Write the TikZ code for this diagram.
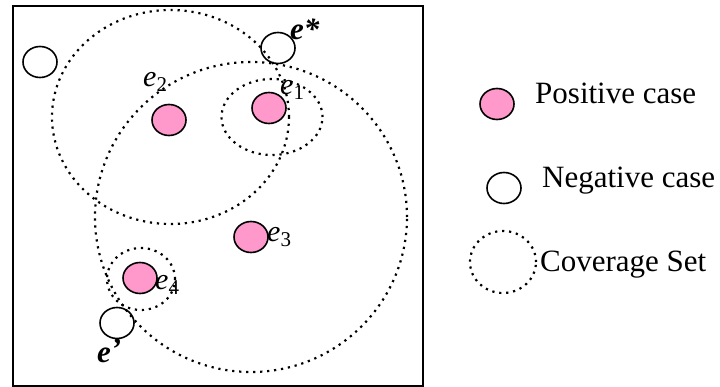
\documentclass[tikz,border=0pt]{standalone}
\usepackage{fontspec}
\setmainfont{Liberation Serif}
\usetikzlibrary{shapes.geometric,positioning}
\definecolor{cpink}{HTML}{FF99CC}
\newcommand{\esub}[1]{e\raisebox{-5pt}{\fontsize{21}{21}\selectfont\upshape #1}}
\tikzset{
  casept/.style={ellipse,draw=black,line width=1.6pt,minimum width=34pt,minimum height=31pt,inner sep=0pt},
  poscase/.style={casept,fill=cpink},
  negcase/.style={casept},
  covset/.style={ellipse,draw=black,line width=2.2pt,dash pattern=on 2.2pt off 4.8pt,inner sep=0pt},
  lbl/.style={font=\fontsize{30}{30}\selectfont\itshape,inner sep=0pt,anchor=base west},
  blbl/.style={lbl,font=\fontsize{31}{31}\selectfont\bfseries\itshape},
  txt/.style={font=\fontsize{31}{36}\selectfont,inner sep=0pt,anchor=base west},
}
\begin{document}
\begin{tikzpicture}[x=1pt,y=-1pt]
  \useasboundingbox (0,0) rectangle (720,387);
  \node[draw,line width=2pt,minimum width=410pt,minimum height=380pt,inner sep=0pt] (frame) at (218,196) {};
  \node[covset,minimum width=237pt,minimum height=214pt] (cov2) at (170.5,117) {};
  \node[covset,minimum width=101pt,minimum height=76pt] (cov1) at (272,117) {};
  \node[covset,minimum width=312pt,minimum height=310pt] (cov3) at (251,217) {};
  \node[covset,minimum width=68pt,minimum height=62pt] (cov4) at (141,279) {};
  \node[negcase] (n0) at (40,62) {};
  \node[negcase] (nstar) at (278,48) {};
  \node[negcase] (nprime) at (117,323) {};
  \node[poscase] (p2) at (169,120) {};
  \node[poscase] (p1) at (269,108) {};
  \node[poscase] (p3) at (251,237) {};
  \node[poscase] (p4) at (140,278) {};
  \node[blbl] (lstar) at (290,40) {e*};
  \node[blbl] (lprime) at (97,362) {e\raisebox{3pt}{’}};
  \node[lbl] (l2) at (143,87) {\esub{2}};
  \node[lbl] (l1) at (280,95) {\esub{1}};
  \node[lbl] (l3) at (267,242) {\esub{3}};
  \node[lbl] (l4) at (155,290) {\esub{4}};
  \node[poscase] (kpos) at (497,104) {};
  \node[txt] (tpos) at (535,104) {Positive case};
  \node[negcase] (kneg) at (504,188) {};
  \node[txt] (tneg) at (542,188) {Negative case};
  \node[covset,minimum width=66pt,minimum height=62pt] (kcov) at (503,262) {};
  \node[txt] (tcov) at (540,272) {Coverage Set};
\end{tikzpicture}
\end{document}
